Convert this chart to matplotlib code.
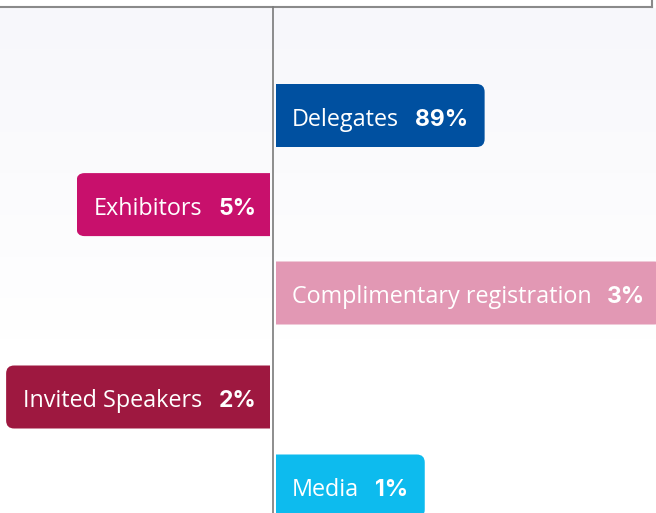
import numpy as np
import matplotlib as mpl
import matplotlib.pyplot as plt
from matplotlib.patches import FancyBboxPatch, Rectangle

mpl.rcParams['font.family'] = ['Open Sans', 'DejaVu Sans']

# data
categories = ['Delegates', 'Exhibitors', 'Complimentary registration',
              'Invited Speakers', 'Media']
shares = [89, 5, 3, 2, 1]
colors = ['#0050a0', '#c8106c', '#e298b4', '#9e1840', '#0dbbee']

# layout (pixel units)
sides = ['right', 'left', 'right', 'left', 'right']
row_y = [115.5, 204.6, 293, 397, 486]
axis_x = 272.5
bar_h = 63
pad_in = 15.5
pad_out = 17
gap = 16

W, H = 656, 513
fig = plt.figure(figsize=(W / 100, H / 100), dpi=100)
ax = fig.add_axes([0, 0, 1, 1])
ax.set_xlim(0, W)
ax.set_ylim(H, 0)
ax.axis('off')

# soft lavender background fading to white
grad = np.linspace(0, 1, 256)
top = np.array([247, 247, 251]) / 255
bg = (top + (1 - top) * grad[:, None]).reshape(256, 1, 3)
ax.imshow(bg, extent=(0, W, 340, 7), aspect='auto', zorder=0)
ax.add_patch(Rectangle((0, 0), W, 7, color='white', zorder=0.5))

# frame at the top and center axis
ax.plot([0, 652], [6.5, 6.5], color='#8a8a8a', lw=1.5, zorder=3)
ax.plot([652, 652], [0, 6.5], color='#8a8a8a', lw=1.5, zorder=3)
ax.plot([axis_x, axis_x], [7, H], color='#7a7a7a', lw=1.2, zorder=3)

renderer = fig.canvas.get_renderer()
inv = ax.transData.inverted()


def width_of(t):
    bb = t.get_window_extent(renderer)
    (x0, _), (x1, _) = inv.transform([[bb.x0, bb.y0], [bb.x1, bb.y1]])
    return x1 - x0


lab_kw = dict(color='white', fontsize=16.8, va='baseline', zorder=5)
pct_kw = dict(color='white', fontsize=16.5, fontweight='bold',
              family=['Inter', 'DejaVu Sans'], va='baseline', zorder=5)

for cat, val, col, side, y in zip(categories, shares, colors, sides, row_y):
    base = y + 10
    if side == 'right':
        x0 = axis_x + 3.5
        x = x0 + pad_in
        t1 = ax.text(x, base, cat, ha='left', **lab_kw)
        x2 = x + width_of(t1) + gap
        t2 = ax.text(x2, base, f'{val}%', ha='left', **pct_kw)
        x1 = x2 + width_of(t2) + pad_out
    else:
        x1 = axis_x - 2.5
        x = x1 - 14
        t2 = ax.text(x, base, f'{val}%', ha='right', **pct_kw)
        x2 = x - width_of(t2) - gap
        t1 = ax.text(x2, base, cat, ha='right', **lab_kw)
        x0 = x2 - width_of(t1) - pad_out
    y0 = y - bar_h / 2
    # rounded box pushed past the axis, then clipped so the inner end is square
    ext = 12
    bx0 = x0 - ext if side == 'right' else x0
    bx1 = x1 if side == 'right' else x1 + ext
    box = FancyBboxPatch((bx0, y0), bx1 - bx0, bar_h,
                         boxstyle='round,pad=0,rounding_size=8',
                         fc=col, ec='none', zorder=2)
    ax.add_patch(box)
    clip = Rectangle((x0, y0 - 1), x1 - x0, bar_h + 2, transform=ax.transData)
    box.set_clip_path(clip)

fig.savefig('out.png', dpi=100)
